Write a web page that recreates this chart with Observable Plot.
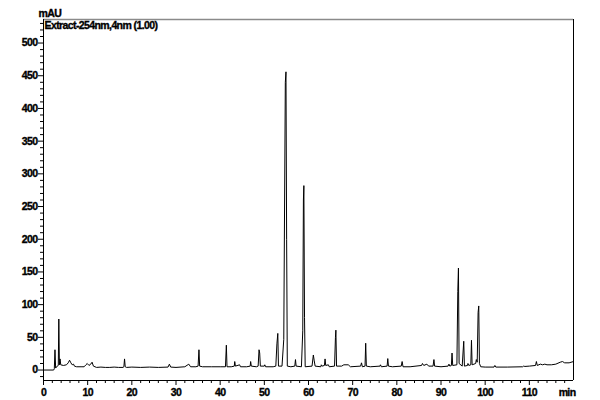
<!DOCTYPE html>
<html>
<head>
<meta charset="utf-8">
<script src="https://cdn.jsdelivr.net/npm/d3@7"></script>
<script src="https://cdn.jsdelivr.net/npm/@observablehq/plot@0.6"></script>
<style>
  html, body { margin: 0; padding: 0; background: #fff; }
  #chart svg text { font-weight: bold; stroke: #000; stroke-width: 0.35px; }
</style>
</head>
<body>
<div id="chart"></div>
<script>
// Chromatogram trace: retention time (min) and absorbance (mAU)
const times = [
  0, 2.3, 2.45, 2.6, 2.75, 3.1, 3.35, 3.47, 3.6, 3.75, 3.9, 4.5, 5.2, 5.6, 5.9, 6.2, 6.5, 6.8, 7.0, 7.5,
  8.5, 9.2, 9.6, 9.9, 10.3, 10.7, 11.0, 11.3, 12, 13, 14, 15, 16, 17, 18, 18.2, 18.35, 18.5, 18.8, 20,
  22, 24, 26, 28.2, 28.5, 28.8, 30, 32, 32.9, 33.3, 34.5, 35.0, 35.2, 35.35, 36, 38, 40, 41.2, 41.4, 41.55,
  42.5, 43.2, 43.3, 43.45, 44.4, 44.6, 46, 46.8, 46.9, 47.05, 48.2, 48.6, 48.8, 48.95, 49.1, 50, 50.1, 50.3, 52, 52.6,
  52.85, 53.05, 53.2, 54.0, 54.4, 54.75, 54.9, 55.05, 55.2, 56, 56.9, 57.05, 57.2, 58.4, 58.7, 58.85, 58.95, 59.1, 59.25, 60.8,
  61.1, 61.3, 61.5, 62.8, 62.9, 63.1, 63.6, 63.75, 63.9, 64.5, 64.7, 65.9, 66.1, 66.2, 66.35, 67.5, 68, 69, 69.5, 71.8,
  72.0, 72.2, 72.8, 72.95, 73.1, 74, 76.2, 76.3, 76.5, 77.8, 77.95, 78.1, 79, 81.0, 81.2, 81.4, 83, 85.6, 85.8, 86.1,
  86.8, 87.2, 88.2, 88.4, 88.55, 90, 91.6, 91.8, 92, 92.35, 92.5, 92.65, 93.6, 93.8, 93.95, 94.1, 94.8, 95.15, 95.3, 96.0,
  96.1, 96.3, 96.75, 96.9, 97.05, 97.85, 98.0, 98.2, 98.4, 98.55, 98.7, 99.0, 100, 102, 102.2, 102.4, 105, 108.5, 108.7, 109,
  110, 111.4, 111.6, 111.8, 112.5, 113, 113.5, 114, 115, 116, 117, 117.5, 118, 119, 120
];
const mAU = [
  0, 0, 2, 31, 3, 6, 7, 78, 8, 17, 8, 7, 8, 11, 15, 11, 8, 9, 6, 5,
  5, 5, 8, 10, 7, 9, 12, 6, 4, 4.5, 4, 4, 4.5, 4, 4, 5, 17, 5, 4, 4.5,
  4, 4.5, 4, 4.5, 9, 4.5, 4, 5, 9, 5, 5, 6, 31, 6, 5, 5, 5, 5, 38, 5,
  5, 6, 13, 6, 8, 5, 5, 6, 13, 6, 5, 6, 31, 26, 6, 6, 8, 5, 5, 6,
  40, 56, 6, 6, 47, 440, 456, 200, 6, 5, 6, 16, 6, 5, 60, 260, 282, 80, 5, 6,
  23, 14, 6, 5, 8, 6, 7, 17, 7, 8, 5, 6, 50, 61, 6, 6, 8, 8, 5, 6,
  11, 5, 6, 41, 6, 5, 6, 8, 5, 6, 17.5, 6, 5, 6, 13, 5, 5, 7, 10, 7,
  9, 6, 6, 16, 6, 5, 6, 9, 6, 7, 26, 7, 8, 120, 156, 10, 6, 44, 6, 7,
  10, 7, 8, 45.5, 8, 10, 16, 12, 88, 98, 10, 5, 4.5, 4.5, 7, 4.5, 4.5, 5, 6, 5.5,
  6, 7, 13, 7, 9, 8, 9, 8, 8, 9, 12, 13, 11, 11, 13
];

// Axis definitions
const xDomain = [0, 120];
const yDomain = [-16, 536];
const xMajorTicks = [0, 10, 20, 30, 40, 50, 60, 70, 80, 90, 100, 110];
const xMinorTicks = d3.range(0, 121, 2).filter(v => v % 10 !== 0);
const yMajorTicks = [0, 50, 100, 150, 200, 250, 300, 350, 400, 450, 500];
const yMinorTicks = d3.range(-10, 531, 10).filter(v => v % 50 !== 0);
const yUnit = "mAU";
const xUnit = "min";
const traceLabel = "Extract-254nm,4nm (1.00)";

const data = times.map((t, i) => ({t, v: mAU[i]}));

const chart = Plot.plot({
  width: 600,
  height: 400,
  marginLeft: 43,
  marginRight: 27,
  marginTop: 19,
  marginBottom: 20,
  style: {
    fontFamily: "'Liberation Sans', Arial, sans-serif",
    fontSize: "10.5px",
    fontWeight: "bold",
    letterSpacing: "-0.6px",
    color: "#000",
    background: "#fff"
  },
  x: {domain: xDomain, label: null},
  y: {domain: yDomain, label: null},
  marks: [
    Plot.ruleY([yDomain[1]], {stroke: "#8a8a8a", strokeWidth: 1.5}),
    Plot.ruleX(xDomain, {stroke: "#000", strokeWidth: 1}),
    Plot.ruleY([yDomain[0]], {stroke: "#000", strokeWidth: 1}),
    Plot.line(data, {x: "t", y: "v", stroke: "#000", strokeWidth: 1}),
    Plot.axisY(yMajorTicks, {tickSize: 5, tickPadding: 1, label: null, stroke: "#000", fontWeight: "bold"}),
    Plot.axisY(yMinorTicks, {tickSize: 3, tickFormat: () => "", label: null, stroke: "#000"}),
    Plot.axisX(xMajorTicks, {tickSize: 5, tickPadding: 3, label: null, stroke: "#000", fontWeight: "bold"}),
    Plot.axisX(xMinorTicks, {tickSize: 3, tickFormat: () => "", label: null, stroke: "#000"}),
    Plot.text([yUnit], {frameAnchor: "top-left", dx: -5, dy: -6, textAnchor: "start", lineAnchor: "middle", fill: "#000", fontWeight: "bold"}),
    Plot.text([traceLabel], {frameAnchor: "top-left", dx: 1, dy: 6, textAnchor: "start", lineAnchor: "middle", fill: "#000", fontWeight: "bold"}),
    Plot.text([xUnit], {frameAnchor: "bottom-right", dx: 2, dy: 12, textAnchor: "end", lineAnchor: "middle", fill: "#000", fontWeight: "bold"})
  ]
});
document.getElementById("chart").appendChild(chart);
</script>
</body>
</html>
